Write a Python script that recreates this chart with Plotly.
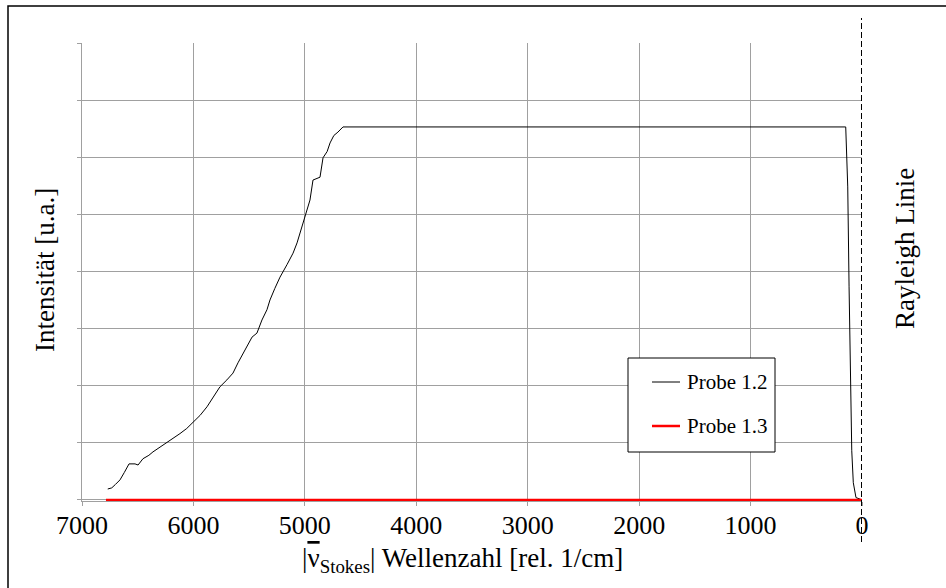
import plotly.graph_objects as go

# Probe 1.2 (wavenumber, intensity)
wn_12 = [6769, 6733, 6700, 6659, 6620, 6578, 6524, 6497, 6453, 6400, 6363, 6300, 6237, 6180,
         6121, 6060, 6004, 5940, 5878, 5820, 5762, 5700, 5645, 5600, 5555, 5510, 5474, 5430,
         5385, 5340, 5313, 5270, 5223, 5160, 5106, 5070, 5044, 4999, 4954, 4927, 4864, 4837,
         4800, 4774, 4740, 4703, 4658, 146, 137, 128, 116, 105, 92, 78, 54, 0]
int_12 = [0.19, 0.21, 0.27, 0.35, 0.48, 0.63, 0.63, 0.61, 0.72, 0.78, 0.84, 0.92, 1.00, 1.08,
          1.16, 1.25, 1.35, 1.48, 1.63, 1.80, 1.98, 2.10, 2.22, 2.40, 2.57, 2.72, 2.85, 2.92,
          3.15, 3.33, 3.50, 3.70, 3.90, 4.12, 4.32, 4.50, 4.67, 4.99, 5.25, 5.60, 5.65, 5.99,
          6.10, 6.25, 6.38, 6.44, 6.53, 6.53, 6.11, 5.48, 3.73, 2.33, 0.86, 0.30, 0.04, 0.0]

# Probe 1.3
wn_13 = [6785, 0]
int_13 = [0.0, 0.0]

series_names = ["Probe 1.2", "Probe 1.3"]
series_colors = ["black", "#ff0000"]
x_ticks = [7000, 6000, 5000, 4000, 3000, 2000, 1000, 0]
y_ticks = [0, 1, 2, 3, 4, 5, 6, 7, 8]

FONT = "Liberation Serif, Times New Roman, serif"

fig = go.Figure()
fig.add_trace(go.Scatter(x=wn_12, y=int_12, mode="lines", name=series_names[0],
                         line=dict(color=series_colors[0], width=1)))
fig.add_trace(go.Scatter(x=wn_13, y=int_13, mode="lines", name=series_names[1],
                         line=dict(color=series_colors[1], width=2.4)))

L, R, T, B = 82, 862, 43, 501
W, H = 946, 588
pw, ph = R - L, B - T


def px(x):
    return (x - L) / pw


def py(y):
    return (B - y) / ph


shapes = [
    dict(type="rect", xref="paper", yref="paper",
         x0=px(8), x1=px(960), y0=py(600), y1=py(6),
         line=dict(color="black", width=1.5), fillcolor="rgba(0,0,0,0)", layer="below"),
    dict(type="line", xref="x", yref="paper", x0=0, x1=0, y0=py(542), y1=py(18),
         line=dict(color="black", width=2, dash="6px,3px")),
    # legend box
    dict(type="rect", xref="paper", yref="paper",
         x0=px(628), x1=px(775), y0=py(452), y1=py(358),
         line=dict(color="black", width=1), fillcolor="white", layer="above"),
    dict(type="line", xref="paper", yref="paper", x0=px(652), x1=px(680),
         y0=py(382), y1=py(382), line=dict(color=series_colors[0], width=1)),
    dict(type="line", xref="paper", yref="paper", x0=px(652), x1=px(680),
         y0=py(426), y1=py(426), line=dict(color=series_colors[1], width=2.5)),
]

annotations = [
    dict(text="Intensität [u.a.]", xref="paper", yref="paper", x=px(45), y=py(270),
         textangle=-90, showarrow=False, font=dict(size=27, family=FONT),
         xanchor="center", yanchor="middle"),
    dict(text="Rayleigh Linie", xref="paper", yref="paper", x=px(905), y=py(249),
         textangle=-90, showarrow=False, font=dict(size=27, family=FONT),
         xanchor="center", yanchor="middle"),
    dict(text="|<span style='text-decoration:overline'>ν</span><sub>Stokes</sub>| Wellenzahl [rel. 1/cm]",
         xref="paper", yref="paper", x=px(462), y=py(560),
         showarrow=False, font=dict(size=27, family=FONT), xanchor="center", yanchor="middle"),
    dict(text=series_names[0], xref="paper", yref="paper", x=px(685), y=py(382),
         showarrow=False, font=dict(size=21, family=FONT), xanchor="left", yanchor="middle"),
    dict(text=series_names[1], xref="paper", yref="paper", x=px(685), y=py(426),
         showarrow=False, font=dict(size=21, family=FONT), xanchor="left", yanchor="middle"),
]

fig.update_layout(
    width=W, height=H,
    margin=dict(l=L, r=W - R, t=T, b=H - B, autoexpand=False),
    paper_bgcolor="white", plot_bgcolor="white",
    font=dict(family=FONT, color="black", size=26),
    showlegend=False,
    xaxis=dict(range=[7000, 0], tickvals=x_ticks, ticktext=[str(v) for v in x_ticks],
               showgrid=True, gridcolor="#a0a0a0", gridwidth=1,
               showline=True, linecolor="#a0a0a0", linewidth=1,
               ticks="outside", ticklen=4, tickcolor="#a0a0a0",
               tickfont=dict(size=26, family=FONT), zeroline=False, automargin=False,
               ticklabelstandoff=-3, layer="below traces"),
    yaxis=dict(range=[-0.02, 8], tickvals=y_ticks, showticklabels=False,
               showgrid=True, gridcolor="#a0a0a0", gridwidth=1,
               showline=True, linecolor="#a0a0a0", linewidth=1,
               ticks="outside", ticklen=4, tickcolor="#a0a0a0", zeroline=False,
               automargin=False, layer="below traces"),
    shapes=shapes,
    annotations=annotations,
)

fig.write_html("out.html", config={"displayModeBar": False},
               post_script="document.body.style.margin='0px';")
